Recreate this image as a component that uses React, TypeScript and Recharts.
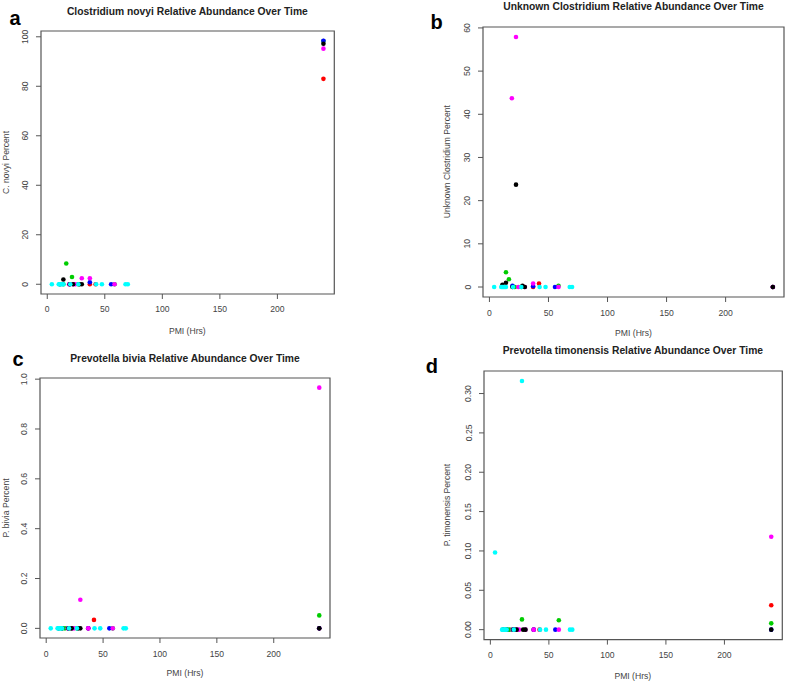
import React from 'react';
import { ScatterChart, Scatter, XAxis, YAxis, ReferenceArea } from 'recharts';

// PMI (hours) of each sample, one list per subject colour
const pmiGreen = [14, 16.5, 21.5, 27, 58.5, 240];
const pmiRed = [37, 42, 240];
const pmiBlue = [19.5, 37, 55.5, 240];
const pmiMagenta = [19, 22.5, 24.5, 30, 37, 58.5, 240];
const pmiBlack = [11, 14, 19.5, 22.5, 28, 30, 240];
const pmiCyan = [4, 10, 11, 12, 13, 14, 20, 27, 42.5, 47.5, 68, 70];

// a - Clostridium novyi (%)
const novyiGreen = [0, 8.4, 2.95, 0, 0, 98.3];
const novyiRed = [0, 0, 83.0];
const novyiBlue = [0, 0.8, 0, 98.4];
const novyiMagenta = [0, 0, 0, 2.4, 2.4, 0, 95.2];
const novyiBlack = [0, 1.9, 0, 0, 0, 0, 97.2];
const novyiCyan = [0, 0, 0, 0, 0, 0, 0, 0, 0, 0, 0, 0];

// b - Unknown Clostridium (%)
const unknownGreen = [3.4, 1.8, 0, 0, 0.3, 0];
const unknownRed = [0, 0.8, 0];
const unknownBlue = [0.3, 0.2, 0, 0];
const unknownMagenta = [43.7, 57.9, 0, 0, 0.8, 0, 0];
const unknownBlack = [0.5, 1.0, 0, 23.7, 0.3, 0, 0];
const unknownCyan = [0, 0, 0, 0, 0, 0, 0, 0, 0, 0, 0, 0];

// c - Prevotella bivia (%)
const biviaGreen = [0, 0, 0, 0, 0, 0.052];
const biviaRed = [0, 0.034, 0];
const biviaBlue = [0, 0, 0, 0];
const biviaMagenta = [0, 0, 0, 0.115, 0, 0, 0.966];
const biviaBlack = [0, 0, 0, 0, 0, 0, 0];
const biviaCyan = [0, 0, 0, 0, 0, 0, 0, 0, 0, 0, 0, 0];

// d - Prevotella timonensis (%)
const timonGreen = [0, 0, 0, 0.013, 0.012, 0.008];
const timonRed = [0, 0, 0.031];
const timonBlue = [0, 0, 0, 0];
const timonMagenta = [0, 0, 0, 0, 0, 0, 0.118];
const timonBlack = [0, 0, 0, 0, 0, 0, 0];
const timonCyan = [0.098, 0, 0, 0, 0, 0, 0, 0.316, 0, 0, 0, 0];

const xTicks = [0, 50, 100, 150, 200];
const novyiTicks = [0, 20, 40, 60, 80, 100];
const unknownTicks = [0, 10, 20, 30, 40, 50, 60];
const biviaTicks = [0, 0.2, 0.4, 0.6, 0.8, 1.0];
const timonTicks = [0, 0.05, 0.1, 0.15, 0.2, 0.25, 0.3];

const colors = ['#00CD00', '#FF0000', '#0000FF', '#FF00FF', '#000000', '#00FFFF'];
const pmiLists = [pmiGreen, pmiRed, pmiBlue, pmiMagenta, pmiBlack, pmiCyan];

const FONT = '"Liberation Sans", Arial, Helvetica, sans-serif';

const zip = (xs: number[], ys: number[]) => xs.map((x, i) => ({ x, y: ys[i] }));
// R default: data range widened by 4%
const pad = (vals: number[]): [number, number] => {
  const lo = Math.min(...vals);
  const hi = Math.max(...vals);
  const d = (hi - lo) * 0.04;
  return [lo - d, hi + d];
};
const xDomain = pad(pmiLists.flat());

const panels = [
  {
    letter: 'a', title: 'Clostridium novyi Relative Abundance Over Time', ylabel: 'C. novyi Percent',
    values: [novyiGreen, novyiRed, novyiBlue, novyiMagenta, novyiBlack, novyiCyan], ticks: novyiTicks, digits: 0,
    box: { left: 40.7, top: 31, right: 334, bottom: 294 },
    titleY: 14.7, letterX: 15, letterY: 25, xlabY: 333.5, ylabX: 8.8,
  },
  {
    letter: 'b', title: 'Unknown Clostridium Relative Abundance Over Time', ylabel: 'Unknown Clostridium Percent',
    values: [unknownGreen, unknownRed, unknownBlue, unknownMagenta, unknownBlack, unknownCyan], ticks: unknownTicks, digits: 0,
    box: { left: 483, top: 26.7, right: 784, bottom: 296.7 },
    titleY: 10, letterX: 436.5, letterY: 29.3, xlabY: 336, ylabX: 450,
  },
  {
    letter: 'c', title: 'Prevotella bivia Relative Abundance Over Time', ylabel: 'P. bivia Percent',
    values: [biviaGreen, biviaRed, biviaBlue, biviaMagenta, biviaBlack, biviaCyan], ticks: biviaTicks, digits: 1,
    box: { left: 40, top: 378, right: 330, bottom: 638 },
    titleY: 362, letterX: 18, letterY: 366, xlabY: 676, ylabX: 8.8,
  },
  {
    letter: 'd', title: 'Prevotella timonensis Relative Abundance Over Time', ylabel: 'P. timonensis Percent',
    values: [timonGreen, timonRed, timonBlue, timonMagenta, timonBlack, timonCyan], ticks: timonTicks, digits: 2,
    box: { left: 483.7, top: 370.7, right: 782, bottom: 639.3 },
    titleY: 354, letterX: 431.8, letterY: 373.3, xlabY: 679, ylabX: 450,
  },
];

const XTickLabel = (props: any) => (
  <text x={props.x} y={props.y + 4.5} textAnchor="middle" dominantBaseline="central"
    fontSize={8.6} fontFamily={FONT} fill="#444">
    {props.payload.value}
  </text>
);

const YTickLabel = (props: any) => {
  const x = props.x - 4.5;
  return (
    <text x={x} y={props.y} transform={`rotate(-90 ${x} ${props.y})`} textAnchor="middle"
      dominantBaseline="central" fontSize={8.6} fontFamily={FONT} fill="#444">
      {Number(props.payload.value).toFixed(props.digits)}
    </text>
  );
};

function Panel({ p }: { p: (typeof panels)[number] }) {
  const ML = 45, MT = 10, MR = 5, MB = 35, YW = 40, XH = 30;
  const w = p.box.right - p.box.left;
  const h = p.box.bottom - p.box.top;
  const yDomain = pad(p.values.flat());
  return (
    <div style={{ position: 'absolute', left: p.box.left - ML, top: p.box.top - MT }}>
      <ScatterChart width={w + ML + MR} height={h + MT + MB}
        margin={{ top: MT, right: MR, bottom: MB - XH, left: ML - YW }}>
        <XAxis type="number" dataKey="x" domain={xDomain} ticks={xTicks} allowDataOverflow interval={0}
          axisLine={false} tickSize={5} tickMargin={6} tickLine={{ stroke: '#555' }} height={XH}
          tick={(t: any) => <XTickLabel {...t} />} />
        <YAxis type="number" dataKey="y" domain={yDomain} ticks={p.ticks} allowDataOverflow interval={0}
          axisLine={false} tickSize={5} tickMargin={6} tickLine={{ stroke: '#555' }} width={YW}
          tick={(t: any) => <YTickLabel {...t} digits={p.digits} />} />
        <ReferenceArea x1={xDomain[0]} x2={xDomain[1]} y1={yDomain[0]} y2={yDomain[1]}
          fill="none" fillOpacity={0} stroke="#555" strokeWidth={1.2} />
        {colors.map((c, i) => (
          <Scatter key={c} data={zip(pmiLists[i], p.values[i])} fill={c} isAnimationActive={false}
            shape={(s: any) => <circle cx={s.cx} cy={s.cy} r={2.3} fill={c} />} />
        ))}
      </ScatterChart>
    </div>
  );
}

export default function App() {
  return (
    <div style={{ position: 'absolute', left: 0, top: 0, width: 787, height: 683, overflow: 'hidden', background: '#fff' }}>
      {panels.map((p) => <Panel key={p.letter} p={p} />)}
      <svg width={787} height={683} style={{ position: 'absolute', left: 0, top: 0, pointerEvents: 'none' }}
        fontFamily={FONT}>
        {panels.map((p) => {
          const cx = (p.box.left + p.box.right) / 2;
          const cy = (p.box.top + p.box.bottom) / 2;
          return (
            <g key={p.letter}>
              <text x={p.letterX} y={p.letterY} textAnchor="middle" fontSize={20} fontWeight="bold" fill="#000">{p.letter}</text>
              <text x={cx} y={p.titleY} textAnchor="middle" fontSize={10.3} fontWeight="bold" fill="#222">{p.title}</text>
              <text x={cx} y={p.xlabY} textAnchor="middle" fontSize={8.6} fill="#444">PMI (Hrs)</text>
              <text x={p.ylabX} y={cy} transform={`rotate(-90 ${p.ylabX} ${cy})`} textAnchor="middle" fontSize={8.6} fill="#444">{p.ylabel}</text>
            </g>
          );
        })}
      </svg>
    </div>
  );
}
